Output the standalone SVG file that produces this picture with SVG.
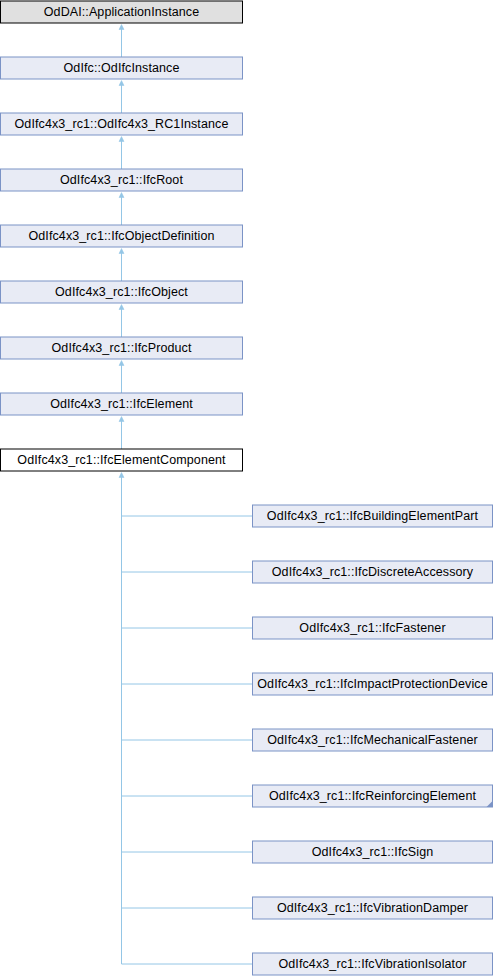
<svg xmlns="http://www.w3.org/2000/svg" width="494" height="976" viewBox="0 0 494 976">
<style>
.n rect{fill:#e8ebf5;stroke:#7b93c6;stroke-width:1}
.g rect{fill:#e0e0e0;stroke:#000;stroke-width:1}
.w rect{fill:#fff;stroke:#000;stroke-width:1}
text{font-family:"Liberation Sans",Arial,sans-serif;font-size:12.5px;letter-spacing:0.1px;fill:#000;text-anchor:middle}
.e path{fill:none;stroke:#94c6e6;stroke-width:1}
.e polygon{fill:#94c6e6;stroke:#94c6e6;stroke-width:0.5}
</style>
<rect width="494" height="976" fill="#fff"/>
<g class="e" id="edges">
<path d="M121.5,29V57"/><polygon points="121.5,24.5 119,29.5 124,29.5"/>
<path d="M121.5,85V113"/><polygon points="121.5,80.5 119,85.5 124,85.5"/>
<path d="M121.5,141V169"/><polygon points="121.5,136.5 119,141.5 124,141.5"/>
<path d="M121.5,197V225"/><polygon points="121.5,192.5 119,197.5 124,197.5"/>
<path d="M121.5,253V281"/><polygon points="121.5,248.5 119,253.5 124,253.5"/>
<path d="M121.5,309V337"/><polygon points="121.5,304.5 119,309.5 124,309.5"/>
<path d="M121.5,365V393"/><polygon points="121.5,360.5 119,365.5 124,365.5"/>
<path d="M121.5,421V449"/><polygon points="121.5,416.5 119,421.5 124,421.5"/>
<path d="M121.5,477V964H252.5"/><polygon points="121.5,472.5 119,477.5 124,477.5"/>
<path d="M121.5,516H252.5"/>
<path d="M121.5,572H252.5"/>
<path d="M121.5,628H252.5"/>
<path d="M121.5,684H252.5"/>
<path d="M121.5,740H252.5"/>
<path d="M121.5,796H252.5"/>
<path d="M121.5,852H252.5"/>
<path d="M121.5,908H252.5"/>
</g>
<g id="n0" class="g"><rect x="0.5" y="1" width="242" height="22"/><text x="121.5" y="16">OdDAI::ApplicationInstance</text></g>
<g id="n1" class="n"><rect x="0.5" y="57" width="242" height="22"/><text x="121.5" y="72">OdIfc::OdIfcInstance</text></g>
<g id="n2" class="n"><rect x="0.5" y="113" width="242" height="22"/><text x="121.5" y="128">OdIfc4x3_rc1::OdIfc4x3_RC1Instance</text></g>
<g id="n3" class="n"><rect x="0.5" y="169" width="242" height="22"/><text x="121.5" y="184">OdIfc4x3_rc1::IfcRoot</text></g>
<g id="n4" class="n"><rect x="0.5" y="225" width="242" height="22"/><text x="121.5" y="240">OdIfc4x3_rc1::IfcObjectDefinition</text></g>
<g id="n5" class="n"><rect x="0.5" y="281" width="242" height="22"/><text x="121.5" y="296">OdIfc4x3_rc1::IfcObject</text></g>
<g id="n6" class="n"><rect x="0.5" y="337" width="242" height="22"/><text x="121.5" y="352">OdIfc4x3_rc1::IfcProduct</text></g>
<g id="n7" class="n"><rect x="0.5" y="393" width="242" height="22"/><text x="121.5" y="408">OdIfc4x3_rc1::IfcElement</text></g>
<g id="n8" class="w"><rect x="0.5" y="449" width="242" height="22"/><text x="121.5" y="464">OdIfc4x3_rc1::IfcElementComponent</text></g>
<g id="n9" class="n"><rect x="252.5" y="505" width="240" height="22"/><text x="372.5" y="520">OdIfc4x3_rc1::IfcBuildingElementPart</text></g>
<g id="n10" class="n"><rect x="252.5" y="561" width="240" height="22"/><text x="372.5" y="576">OdIfc4x3_rc1::IfcDiscreteAccessory</text></g>
<g id="n11" class="n"><rect x="252.5" y="617" width="240" height="22"/><text x="372.5" y="632">OdIfc4x3_rc1::IfcFastener</text></g>
<g id="n12" class="n"><rect x="252.5" y="673" width="240" height="22"/><text x="372.5" y="688">OdIfc4x3_rc1::IfcImpactProtectionDevice</text></g>
<g id="n13" class="n"><rect x="252.5" y="729" width="240" height="22"/><text x="372.5" y="744">OdIfc4x3_rc1::IfcMechanicalFastener</text></g>
<g id="n14" class="n"><rect x="252.5" y="785" width="240" height="22"/><text x="372.5" y="800">OdIfc4x3_rc1::IfcReinforcingElement</text><polygon points="492.5,801 492.5,807 486.5,807" fill="#7b93c6"/></g>
<g id="n15" class="n"><rect x="252.5" y="841" width="240" height="22"/><text x="372.5" y="856">OdIfc4x3_rc1::IfcSign</text></g>
<g id="n16" class="n"><rect x="252.5" y="897" width="240" height="22"/><text x="372.5" y="912">OdIfc4x3_rc1::IfcVibrationDamper</text></g>
<g id="n17" class="n"><rect x="252.5" y="953" width="240" height="22"/><text x="372.5" y="968">OdIfc4x3_rc1::IfcVibrationIsolator</text></g>
</svg>
